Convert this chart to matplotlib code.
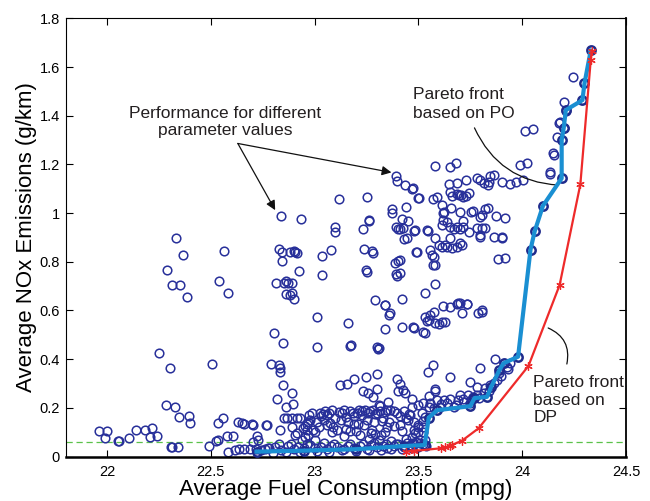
import matplotlib
matplotlib.use("Agg")
import matplotlib.pyplot as plt
import numpy as np

plt.rcParams['font.family'] = ['Liberation Sans', 'DejaVu Sans']

# ---------------- data ----------------
# scattered parameter runs: (fuel mpg, NOx g/km), grouped by region
left_fuel = [21.963, 22.001, 21.99, 22.054, 22.06, 22.107, 22.14, 22.183, 22.215, 22.207, 22.24,
             22.284, 22.329, 22.348, 22.397, 22.40, 22.307, 22.315, 22.342, 22.493, 22.524, 22.533,
             22.536, 22.558, 22.577, 22.606, 22.585, 22.617, 22.63, 22.649, 22.66, 22.697, 22.705,
             22.721, 22.702, 22.726, 22.77, 22.637, 22.662, 22.689, 22.718, 22.742, 22.761, 22.777,
             22.333, 22.365, 22.288, 22.313, 22.352, 22.386, 22.564, 22.538, 22.583, 22.252, 22.304,
             22.506]
left_nox = [0.105, 0.105, 0.075, 0.064, 0.062, 0.077, 0.109, 0.109, 0.116, 0.081, 0.084,
            0.211, 0.202, 0.163, 0.166, 0.136, 0.038, 0.04, 0.04, 0.044, 0.065, 0.068,
            0.136, 0.159, 0.084, 0.084, 0.02, 0.027, 0.143, 0.136, 0.133, 0.133, 0.129,
            0.084, 0.06, 0.068, 0.129, 0.03, 0.03, 0.03, 0.03, 0.028, 0.03, 0.033,
            0.896, 0.828, 0.766, 0.703, 0.703, 0.656, 0.845, 0.721, 0.67, 0.425, 0.365,
            0.38]

midleft_fuel = [22.837, 22.935, 22.83, 22.843, 22.88, 22.90, 22.907, 22.914, 22.845, 22.927, 22.814,
                22.853, 22.863, 22.872, 22.89, 22.86, 22.88, 22.893, 22.90, 22.805, 22.847, 22.79,
                22.83, 22.834, 22.834, 22.89, 22.818, 22.863, 22.895, 22.85, 22.766, 22.834, 22.89,
                22.914, 22.905, 22.853, 22.866, 22.89, 22.914, 22.93, 22.946, 22.954, 22.962, 22.97,
                22.978, 22.965, 22.975, 22.985, 22.97, 22.955, 22.94, 23.0]
midleft_nox = [0.988, 0.977, 0.853, 0.841, 0.841, 0.845, 0.841, 0.836, 0.803, 0.762, 0.714,
               0.714, 0.721, 0.714, 0.711, 0.666, 0.662, 0.670, 0.646, 0.506, 0.465, 0.379,
               0.376, 0.362, 0.348, 0.262, 0.236, 0.205, 0.216, 0.295, 0.129, 0.109, 0.122,
               0.095, 0.09, 0.16, 0.16, 0.16, 0.16, 0.16, 0.116, 0.125, 0.133, 0.143,
               0.15, 0.109, 0.17, 0.18, 0.09, 0.08, 0.068, 0.068]

mid_fuel = [23.118, 23.252, 23.10, 23.10, 23.26, 23.262, 23.235, 23.391, 23.395, 23.433, 23.47,
            23.50, 23.373, 23.375, 23.44, 23.42, 23.452, 23.393, 23.40, 23.41, 23.428, 23.48,
            23.43, 23.444, 23.49, 23.08, 23.036, 23.24, 23.274, 23.279, 23.037, 23.248, 23.25,
            23.388, 23.40, 23.41, 23.396, 23.39, 23.409, 23.29, 23.341, 23.423, 23.011, 23.163,
            23.011, 23.171, 23.173, 23.30, 23.307, 23.31, 23.34, 23.364, 23.356, 23.34, 23.42,
            23.476, 23.48, 23.12, 23.158, 23.192, 23.248, 23.30, 23.235, 23.259, 23.28, 23.30,
            23.396, 23.409, 23.428, 23.436, 23.468, 23.40, 23.353, 23.31, 23.315]
mid_nox = [1.056, 1.068, 0.941, 0.923, 0.971, 0.968, 0.933, 1.152, 1.131, 1.115, 1.10,
           1.06, 1.016, 1.001, 1.023, 0.974, 0.968, 0.944, 0.933, 0.935, 0.94, 0.927,
           0.892, 0.896, 0.841, 0.848, 0.823, 0.853, 0.844, 0.836, 0.744, 0.765, 0.76,
           0.793, 0.803, 0.807, 0.741, 0.749, 0.755, 0.643, 0.622, 0.648, 0.572, 0.547,
           0.451, 0.454, 0.458, 0.451, 0.441, 0.445, 0.622, 0.588, 0.582, 0.524, 0.533,
           0.531, 0.527, 0.292, 0.298, 0.32, 0.326, 0.338, 0.27, 0.262, 0.243, 0.276,
           0.318, 0.298, 0.273, 0.262, 0.237, 0.27, 0.225, 0.212, 0.208]

band_fuel = [23.026, 23.05, 23.083, 23.131, 23.171, 23.203, 23.227, 23.243, 23.259, 23.267, 23.316,
             23.34, 23.364, 23.38, 23.03, 23.06, 23.10, 23.15, 23.19, 23.23, 23.29, 23.33,
             23.41, 23.44,
             23.02, 23.06, 23.09, 23.11, 23.15, 23.17, 23.19, 23.24, 23.27, 23.29, 23.32,
             23.35, 23.38, 23.41, 23.14, 23.22, 23.26, 23.31, 23.37, 23.44, 23.47,
             23.04, 23.07, 23.115, 23.14, 23.185, 23.215, 23.28, 23.30, 23.35, 23.395, 23.43,
             23.455, 23.01, 23.045, 23.075, 23.125, 23.16, 23.21, 23.25, 23.285, 23.325, 23.36,
             22.99, 23.0, 23.085, 23.2, 23.275, 23.34, 23.42, 23.48, 23.5, 23.52]
band_nox = [0.18, 0.185, 0.19, 0.18, 0.185, 0.18, 0.185, 0.19, 0.18, 0.186, 0.187,
            0.183, 0.19, 0.186, 0.165, 0.17, 0.16, 0.162, 0.166, 0.17, 0.175, 0.158,
            0.165, 0.16,
            0.12, 0.128, 0.12, 0.11, 0.115, 0.104, 0.135, 0.13, 0.098, 0.092, 0.09,
            0.12, 0.125, 0.13, 0.085, 0.09, 0.072, 0.068, 0.065, 0.07, 0.08,
            0.176, 0.18, 0.183, 0.19, 0.178, 0.19, 0.192, 0.18, 0.192, 0.178, 0.186,
            0.175, 0.14, 0.15, 0.138, 0.15, 0.14, 0.135, 0.15, 0.14, 0.145, 0.14,
            0.11, 0.1, 0.1, 0.105, 0.11, 0.1, 0.105, 0.11, 0.12, 0.1]

floor_fuel = [22.78, 22.81, 22.84, 22.87, 22.9, 22.92, 22.95, 22.98, 23.0, 23.03, 23.06,
              23.08, 23.11, 23.14, 23.16, 23.19, 23.22, 23.25, 23.27, 23.3, 23.33, 23.35,
              23.38, 23.4, 23.43, 23.46, 23.48, 22.8, 22.86, 22.93, 23.01, 23.07, 23.13,
              23.2, 23.26, 23.32, 23.37, 23.42, 23.47, 23.5,
              22.83, 22.885, 22.965, 23.045, 23.095, 23.17, 23.235, 23.285, 23.345, 23.39, 23.445,
              23.49, 23.52, 23.535]
floor_nox = [0.035, 0.04, 0.028, 0.045, 0.03, 0.04, 0.033, 0.048, 0.035, 0.04, 0.03,
             0.045, 0.038, 0.032, 0.044, 0.036, 0.042, 0.03, 0.047, 0.038, 0.044, 0.033,
             0.045, 0.05, 0.04, 0.048, 0.052, 0.015, 0.02, 0.018, 0.022, 0.02, 0.025,
             0.022, 0.028, 0.025, 0.03, 0.032, 0.036, 0.04,
             0.05, 0.052, 0.05, 0.055, 0.05, 0.052, 0.05, 0.055, 0.05, 0.052, 0.055,
             0.06, 0.05, 0.045]

right_fuel = [23.582, 23.65, 23.683, 23.989, 24.023, 23.473, 23.505, 23.57, 23.589, 23.613, 23.621,
              23.618, 23.647, 23.65, 23.661, 23.685, 23.696, 23.705, 23.717, 23.729, 23.745, 23.727,
              23.688, 23.782, 23.798, 23.817, 23.835, 23.846, 23.862, 23.84, 23.902, 23.942, 23.971,
              24.006, 23.658, 23.701, 23.754, 23.765, 23.798, 23.806, 23.822, 23.833, 23.875, 23.915,
              23.62, 23.613, 23.637, 23.653, 23.669, 23.685, 23.701, 23.717, 23.714, 23.746, 23.782,
              23.806, 23.822, 23.798, 23.798, 23.862, 23.902, 23.905, 23.483, 23.541, 23.548, 23.581,
              23.597, 23.613, 23.626, 23.637, 23.653, 23.661, 23.685, 23.701, 23.709, 23.557, 23.565,
              23.576, 23.57, 23.581, 23.493, 23.881, 23.918, 23.581, 23.533,
              23.62, 23.653, 23.685, 23.701, 23.736, 23.806, 23.693, 23.709, 23.733, 23.789, 23.806,
              23.533, 23.557, 23.573, 23.541, 23.581, 23.613, 23.629, 23.524, 23.53, 23.55, 23.6,
              23.57, 23.548, 23.653, 23.581, 23.798, 23.749, 23.782, 23.87]
right_nox = [1.193, 1.19, 1.204, 1.197, 1.204, 1.104, 1.06, 1.056, 1.067, 1.033, 1.005,
             0.999, 1.119, 1.088, 1.071, 1.077, 1.073, 1.073, 1.065, 1.07, 1.081, 1.136,
             1.122, 1.143, 1.136, 1.124, 1.115, 1.152, 1.155, 1.126, 1.127, 1.118, 1.127,
             1.136, 1.019, 1.005, 1.005, 1.009, 0.985, 0.992, 1.015, 1.019, 0.988, 0.981,
             0.971, 0.951, 0.964, 0.944, 0.936, 0.941, 0.936, 0.944, 0.968, 0.923, 0.937,
             0.937, 0.937, 0.91, 0.90, 0.90, 0.90, 0.897, 0.93, 0.93, 0.927, 0.896,
             0.869, 0.862, 0.869, 0.862, 0.896, 0.855, 0.862, 0.876, 0.869, 0.848, 0.828,
             0.821, 0.786, 0.786, 0.841, 0.81, 0.816, 0.708, 0.673,
             0.618, 0.615, 0.626, 0.629, 0.625, 0.602, 0.629, 0.591, 0.626, 0.591, 0.595,
             0.574, 0.581, 0.595, 0.558, 0.547, 0.554, 0.554, 0.513, 0.508, 0.56, 0.545,
             0.376, 0.348, 0.325, 0.276, 0.362, 0.307, 0.287, 0.399]

near_front_fuel = [23.517, 23.533, 23.557, 23.589, 23.621, 23.653, 23.693, 23.717, 23.701, 23.741,
                   23.765, 23.782, 23.814, 23.822, 23.846, 23.862, 23.878, 23.886, 23.926, 23.942,
                   23.484, 23.50, 23.524, 23.533, 23.508, 23.476, 23.46, 23.549, 23.605, 23.669,
                   23.749, 23.48, 23.5, 23.52, 23.45, 23.47, 23.5, 23.52, 23.55, 23.58,
                   24.244, 24.212, 24.18, 24.175, 24.202, 24.167, 24.014, 24.051, 24.148, 24.151,
                   24.132, 24.135, 24.199,
                   23.575, 23.61, 23.64, 23.68, 23.72, 23.76, 23.79, 23.84, 23.9, 23.93]
near_front_nox = [0.177, 0.163, 0.218, 0.232, 0.232, 0.235, 0.232, 0.235, 0.252, 0.252,
                  0.246, 0.252, 0.26, 0.28, 0.294, 0.30, 0.314, 0.342, 0.369, 0.383,
                  0.095, 0.102, 0.122, 0.068, 0.057, 0.054, 0.17, 0.205, 0.205, 0.205,
                  0.218, 0.14, 0.13, 0.145, 0.15, 0.205, 0.21, 0.22, 0.25, 0.27,
                  1.56, 1.42, 1.375, 1.368, 1.348, 1.313, 1.337, 1.344, 1.245, 1.238,
                  1.167, 1.16, 1.455,
                  0.2, 0.215, 0.22, 0.21, 0.225, 0.235, 0.24, 0.27, 0.33, 0.36]

# Pareto front from parameter optimisation (PO)
po_fuel = [22.72, 22.95, 23.2, 23.43, 23.53, 23.55, 23.59, 23.75, 23.77, 23.83, 23.85, 23.89,
           23.91, 23.98, 24.04, 24.06, 24.10, 24.19, 24.19, 24.20, 24.21, 24.29, 24.30, 24.33]
po_nox = [0.02, 0.024, 0.03, 0.043, 0.047, 0.16, 0.19, 0.207, 0.24, 0.245, 0.285, 0.355,
          0.383, 0.41, 0.85, 0.925, 1.03, 1.143, 1.30, 1.35, 1.423, 1.464, 1.533, 1.668]

# Pareto front from dynamic programming (DP)
dp_fuel = [23.44, 23.48, 23.61, 23.63, 23.65, 23.66, 23.71, 23.79, 24.03, 24.18, 24.28, 24.33, 24.335]
dp_nox = [0.02, 0.023, 0.034, 0.038, 0.042, 0.047, 0.065, 0.116, 0.372, 0.704, 1.118, 1.628, 1.667]

nox_limit = 0.06

xticks = [22, 22.5, 23, 23.5, 24, 24.5]
xticklabels = ['22', '22.5', '23', '23.5', '24', '24.5']
yticks = [0, 0.2, 0.4, 0.6, 0.8, 1.0, 1.2, 1.4, 1.6, 1.8]
yticklabels = ['0', '0.2', '0.4', '0.6', '0.8', '1', '1.2', '1.4', '1.6', '1.8']

# ---------------- plot ----------------
fig = plt.figure(figsize=(6.5, 5.01), dpi=100)
ax = fig.add_axes([0.1008, 0.0888, 0.8623, 0.8746])

all_fuel = (left_fuel + midleft_fuel + mid_fuel + band_fuel + floor_fuel + right_fuel + near_front_fuel)
all_nox = (left_nox + midleft_nox + mid_nox + band_nox + floor_nox + right_nox + near_front_nox)

navy = '#28309a'
ax.plot(all_fuel, all_nox, linestyle='none', marker='o', ms=6.2, mfc='none',
        mec=navy, mew=1.1, zorder=2)

ax.axhline(nox_limit, color='#5cc24a', lw=0.9, dashes=(5, 3), zorder=1)

ax.plot(po_fuel, po_nox, linestyle='none', marker='o', ms=6, mfc='none',
        mec='#1f2b8c', mew=1.8, zorder=3)
ax.plot(po_fuel, po_nox, color='#1a8fd2', lw=3.0, zorder=3.5, solid_joinstyle='round')

ax.plot(dp_fuel, dp_nox, color='#ee2a2a', lw=1.6, marker=(6, 2, 0), ms=6, mew=0.9,
        mec='#ee2a2a', zorder=4)

ax.set_xlim(21.8, 24.5)
ax.set_ylim(0, 1.8)
ax.set_xticks(xticks)
ax.set_xticklabels(xticklabels)
ax.set_yticks(yticks)
ax.set_yticklabels(yticklabels)
ax.tick_params(direction='in', length=5, width=0.8, top=True, right=True,
               labelsize=10.5, colors='black')
ax.tick_params(axis='x', pad=6)
ax.tick_params(axis='y', pad=4)

for side in ['top', 'left']:
    ax.spines[side].set_linewidth(0.8)
ax.spines['bottom'].set_linewidth(1.8)
ax.spines['right'].set_linewidth(1.3)

ax.set_xlabel('Average Fuel Consumption (mpg)', fontsize=16, labelpad=0)
ax.set_ylabel('Average NOx Emissions (g/km)', fontsize=16, labelpad=2)

txtc = '#231f20'
ax.text(22.569, 1.374, 'Performance for different\nparameter values', ha='center', va='center',
        fontsize=12.5, color=txtc, linespacing=1.22)
for tgt in [(22.81, 1.012), (23.37, 1.167)]:
    ax.annotate('', xy=tgt, xytext=(22.63, 1.286),
                arrowprops=dict(arrowstyle='-|>', color='#111111', lw=0.9,
                                mutation_scale=14, shrinkA=0, shrinkB=0))

ax.text(23.472, 1.447, 'Pareto front\nbased on PO', ha='left', va='center',
        fontsize=12.5, color=txtc, linespacing=1.3)
ax.annotate('', xy=(24.175, 1.115), xytext=(23.77, 1.35),
            arrowprops=dict(arrowstyle='-', color='#111111', lw=0.9,
                            connectionstyle='arc3,rad=0.3', shrinkA=0, shrinkB=0))

ax.text(24.053, 0.232, 'Pareto front\nbased on\nDP', ha='left', va='center',
        fontsize=12.5, color=txtc, linespacing=1.22, clip_on=False)
ax.annotate('', xy=(24.125, 0.528), xytext=(24.215, 0.38),
            arrowprops=dict(arrowstyle='-', color='#111111', lw=0.9,
                            connectionstyle='arc3,rad=0.4', shrinkA=0, shrinkB=0))

fig.savefig('out.png', dpi=100)
